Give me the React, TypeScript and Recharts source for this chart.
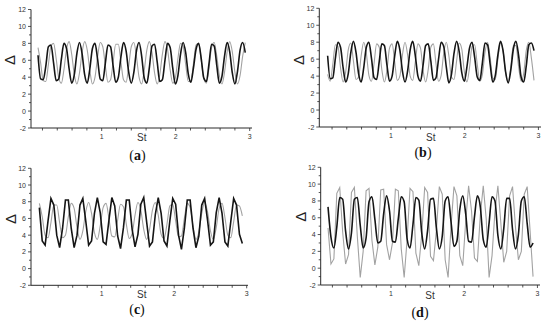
import React from 'react';
import { LineChart, Line, XAxis, YAxis } from 'recharts';

// St sampling grids
const ST_AB = [0.14, 0.175, 0.21, 0.245, 0.28, 0.315, 0.35, 0.385, 0.42, 0.455, 0.49, 0.525, 0.56, 0.595, 0.63, 0.665, 0.7, 0.735, 0.77, 0.805, 0.84, 0.875, 0.91, 0.945, 0.98, 1.015, 1.05, 1.085, 1.12, 1.155, 1.19, 1.225, 1.26, 1.295, 1.33, 1.365, 1.4, 1.435, 1.47, 1.505, 1.54, 1.575, 1.61, 1.645, 1.68, 1.715, 1.75, 1.785, 1.82, 1.855, 1.89, 1.925, 1.96, 1.995, 2.03, 2.065, 2.1, 2.135, 2.17, 2.205, 2.24, 2.275, 2.31, 2.345, 2.38, 2.415, 2.45, 2.485, 2.52, 2.555, 2.59, 2.625, 2.66, 2.695, 2.73, 2.765, 2.8, 2.835, 2.87, 2.905, 2.94];
const ST_CD = [0.14, 0.18, 0.22, 0.26, 0.3, 0.34, 0.38, 0.42, 0.46, 0.5, 0.54, 0.58, 0.62, 0.66, 0.7, 0.74, 0.78, 0.82, 0.86, 0.9, 0.94, 0.98, 1.02, 1.06, 1.1, 1.14, 1.18, 1.22, 1.26, 1.3, 1.34, 1.38, 1.42, 1.46, 1.5, 1.54, 1.58, 1.62, 1.66, 1.7, 1.74, 1.78, 1.82, 1.86, 1.9, 1.94, 1.98, 2.02, 2.06, 2.1, 2.14, 2.18, 2.22, 2.26, 2.3, 2.34, 2.38, 2.42, 2.46, 2.5, 2.54, 2.58, 2.62, 2.66, 2.7, 2.74, 2.78, 2.82, 2.86, 2.9, 2.94];

// Panel (a)
const A_BLACK = [6.6, 3.8, 3.7, 5.3, 7.6, 7.8, 5.7, 3.6, 3.8, 6.1, 8.0, 7.4, 5.0, 3.3, 4.3, 6.8, 8.1, 6.8, 4.3, 3.3, 5.0, 7.4, 8.0, 6.1, 3.8, 3.6, 5.7, 7.8, 7.6, 5.3, 3.4, 4.0, 6.4, 8.1, 7.1, 4.6, 3.3, 4.6, 7.1, 8.1,
  6.5, 3.9, 3.3, 5.2, 7.7, 7.9, 5.8, 3.5, 3.7, 6.0, 8.0, 7.5, 5.1, 3.2, 4.2, 6.7, 8.1, 6.9, 4.4, 3.4, 5.1, 7.3, 8.0, 6.2, 3.9, 3.5, 5.6, 7.9, 7.7, 5.4, 3.3, 4.1, 6.5, 8.1, 7.0, 4.5, 3.2, 4.7, 7.2, 8.1, 6.9];
const A_GREY = [7.5, 5.7, 3.6, 3.5, 5.5, 7.7, 8.0, 6.2, 3.9, 3.3, 4.9, 7.3, 8.2, 6.7, 4.3, 3.2, 4.5, 6.9, 8.2, 7.2, 4.8, 3.2, 4.0, 6.4, 8.1, 7.6, 5.3, 3.4, 3.7, 5.8,
  7.9, 7.9, 5.8, 3.7, 3.4, 5.3, 7.6, 8.1, 6.4, 4.0, 3.2, 4.8, 7.2, 8.2, 6.9, 4.5, 3.2, 4.3, 6.7, 8.2, 7.3, 4.9, 3.3, 3.9, 6.2, 8.0, 7.7, 5.5, 3.5, 3.6,
  5.6, 7.8, 8.0, 6.0, 3.8, 3.3, 5.1, 7.5, 8.1, 6.5, 4.2, 3.2, 4.6, 7.0, 8.2, 7.0, 4.6, 3.2, 4.2, 6.5, 8.1];

// Panel (b)
const B_BLACK = [6.4, 3.7, 3.8, 6.1, 8.0, 7.4, 5.0, 3.3, 4.3, 6.8, 8.1, 6.8, 4.3, 3.3, 5.0, 7.4, 8.0, 6.1, 3.8, 3.6, 5.7, 7.8, 7.6, 5.3, 3.4, 4.0, 6.4, 8.1, 7.1, 4.6, 3.3, 4.6, 7.1, 8.1, 6.4, 4.0, 3.4, 5.3, 7.6, 7.8,
  5.8, 3.5, 3.8, 6.0, 8.0, 7.5, 5.1, 3.2, 4.2, 6.7, 8.1, 6.9, 4.4, 3.4, 5.1, 7.3, 8.0, 6.2, 3.9, 3.5, 5.6, 7.9, 7.7, 5.4, 3.3, 4.1, 6.5, 8.1, 7.0, 4.5, 3.2, 4.7, 7.2, 8.1, 6.5, 3.9, 3.3, 5.2, 7.7, 7.9, 7.0];
const B_GREY = [4.2, 3.4, 5.4, 7.7, 7.5, 5.0, 3.3, 4.5, 7.1, 7.9, 5.8, 3.6, 3.9, 6.4, 8.0, 6.7, 4.1, 3.4, 5.5, 7.8, 7.4, 4.8, 3.3, 4.7, 7.3, 7.8, 5.7, 3.5, 4.0, 6.5,
  8.0, 6.5, 4.0, 3.5, 5.7, 7.8, 7.3, 4.7, 3.3, 4.8, 7.4, 7.8, 5.5, 3.4, 4.1, 6.7, 8.0, 6.4, 3.9, 3.6, 5.8, 7.9, 7.2, 4.5, 3.3, 5.0, 7.5, 7.7, 5.4, 3.4,
  4.2, 6.8, 8.0, 6.2, 3.8, 3.6, 6.0, 7.9, 7.0, 4.4, 3.3, 5.1, 7.6, 7.6, 5.2, 3.4, 4.3, 7.0, 8.0, 6.1, 3.5];

// Panel (c)
const C_BLACK = [7.3, 3.3, 2.8, 5.7, 8.4, 7.6, 4.0, 2.5, 4.8, 8.2, 8.2, 4.8, 2.5, 4.0, 7.6, 8.4, 5.7, 2.8, 3.3, 6.6, 8.5,
  6.7, 3.2, 2.9, 5.8, 8.5, 7.5, 3.9, 2.4, 4.9, 8.2, 8.2, 4.7, 2.6, 4.1, 7.7, 8.5, 5.6, 2.7, 3.2, 6.5, 8.5,
  6.6, 3.3, 2.7, 5.7, 8.4, 7.7, 4.0, 2.3, 4.8, 8.2, 8.2, 4.8, 2.5, 3.9, 7.6, 8.4, 5.8, 2.8, 3.2, 6.7, 8.5,
  6.6, 3.2, 2.7, 5.6, 8.4, 7.6, 4.1, 3.0];
const C_GREY = [7.8, 6.2, 4.0, 3.7, 5.5, 7.6, 7.6, 5.5, 3.7, 4.0, 6.2, 7.8, 7.2, 4.9, 3.5, 4.5, 6.8, 7.9, 6.6, 4.3,
  3.5, 5.1, 7.3, 7.8, 6.0, 3.9, 3.8, 5.8, 7.7, 7.4, 5.3, 3.6, 4.2, 6.4, 7.9, 7.0, 4.7, 3.5, 4.7, 7.0,
  7.9, 6.4, 4.1, 3.6, 5.3, 7.5, 7.7, 5.7, 3.8, 3.9, 6.0, 7.8, 7.3, 5.1, 3.5, 4.4, 6.6, 7.9, 6.8, 4.5,
  3.5, 4.9, 7.2, 7.8, 6.1, 4.0, 3.7, 5.6, 7.6, 7.5, 6.3];

// Panel (d)
const D_BLACK = [7.3, 3.7, 2.4, 4.9, 8.4, 8.2, 4.4, 2.3, 4.2, 8.2, 8.4, 5.1, 2.4, 3.6, 7.9, 8.5, 5.8, 3.0, 3.2, 6.5,
  8.6, 6.8, 3.2, 3.1, 5.9, 8.5, 7.9, 3.5, 2.4, 5.2, 8.4, 8.1, 4.2, 2.3, 4.5, 8.2, 8.3, 4.8, 2.3, 3.8,
  8.0, 8.5, 5.5, 2.6, 3.2, 7.0, 8.6, 6.5, 3.2, 3.1, 6.1, 8.6, 7.3, 3.4, 2.5, 5.4, 8.5, 8.0, 3.9, 2.3,
  4.7, 8.3, 8.3, 4.6, 2.3, 4.0, 8.0, 8.5, 5.3, 2.5, 3.0];
const D_GREY = [4.8, 0.5, 1.1, 8.9, 9.6, 4.3, 0.5, 1.6, 9.0, 9.6, 3.8, -1.1, 2.0, 9.2, 9.5, 3.3, 0.4, 2.5, 9.3, 9.4,
  2.8, 1.0, 3.0, 9.4, 9.2, 2.3, -1.1, 3.4, 9.5, 9.1, 1.8, 0.3, 4.0, 9.6, 9.0, 1.4, 0.9, 4.5, 9.7, 8.8,
  1.0, -1.1, 5.0, 9.7, 8.6, 1.5, 0.3, 5.5, 9.8, 6.8, 1.2, 0.8, 6.3, 9.8, 5.9, -1.1, 1.5, 6.8, 9.8, 5.4,
  0.7, 2.0, 8.6, 9.7, 4.9, 1.0, 2.0, 8.8, 9.7, 4.4, -1.0];

const X_TICKS = [0.2, 0.4, 0.6, 0.8, 1, 1.2, 1.4, 1.6, 1.8, 2, 2.2, 2.4, 2.6, 2.8, 3];
const Y_TICKS = [-2, -1, 0, 1, 2, 3, 4, 5, 6, 7, 8, 9, 10, 11, 12];
const PANEL_LETTERS = ['a', 'b', 'c', 'd'];

const SANS = '"Liberation Sans", Arial, sans-serif';
const SERIF = '"Liberation Serif", "Times New Roman", serif';
const AXIS_COLOR = '#2a2a2a';

const PANELS = [
  { st: ST_AB, black: A_BLACK, grey: A_GREY, curveBlack: 'monotone', curveGrey: 'monotone', left: 0, top: 0, margin: { top: 9.5, right: 23, bottom: 22, left: 11 }, domain: [0.045, 3.031], delta: [9.7, 60], stPos: [141.7, 137.5], labelPos: [137.5, 155] },
  { st: ST_AB, black: B_BLACK, grey: B_GREY, curveBlack: 'monotone', curveGrey: 'monotone', left: 275, top: 0, margin: { top: 8.3, right: 9, bottom: 23, left: 24.3 }, domain: [0.027, 3.035], delta: [298.3, 60], stPos: [430.8, 137.8], labelPos: [423, 152] },
  { st: ST_CD, black: C_BLACK, grey: C_GREY, curveBlack: 'linear', curveGrey: 'monotone', left: 0, top: 160, margin: { top: 8.3, right: 27, bottom: 24.7, left: 11 }, domain: [0.025, 3.018], delta: [10.7, 219], stPos: [141.7, 294.8], labelPos: [137, 309] },
  { st: ST_CD, black: D_BLACK, grey: D_GREY, curveBlack: 'monotone', curveGrey: 'linear', left: 275, top: 160, margin: { top: 7.3, right: 10, bottom: 25, left: 25.7 }, domain: [0.04, 3.035], delta: [300.8, 216.7], stPos: [430, 295.5], labelPos: [420, 312] },
];

const isInt = (v: number) => Math.abs(v - Math.round(v)) < 1e-6;

const XTick = (props: any) => {
  const { x, y, payload } = props;
  const v = payload.value as number;
  const major = isInt(v);
  return (
    <g>
      <line x1={x} x2={x} y1={y} y2={y + (major ? 3 : 2.5)} stroke={AXIS_COLOR} strokeWidth={0.8} />
      {major && (
        <text x={x} y={y + 10.5} textAnchor="middle" fontSize={7} fill="#333" fontFamily={SANS}>
          {Math.round(v)}
        </text>
      )}
    </g>
  );
};

const YTick = (props: any) => {
  const { x, y, payload } = props;
  const v = payload.value as number;
  const major = Math.round(v) % 2 === 0;
  return (
    <g>
      <line x1={x - (major ? 3 : 2)} x2={x} y1={y} y2={y} stroke={AXIS_COLOR} strokeWidth={0.8} />
      {major && (
        <text x={x - 5} y={y + 2.5} textAnchor="end" fontSize={7} fill="#333" fontFamily={SANS}>
          {v}
        </text>
      )}
    </g>
  );
};

function Panel({ p }: { p: any }) {
  const rows = p.st.map((s: number, i: number) => ({ st: s, black: p.black[i], grey: p.grey[i] }));
  return (
    <div style={{ position: 'absolute', left: p.left, top: p.top, width: 275, height: 165 }}>
      <LineChart width={275} height={165} data={rows} margin={p.margin}>
        <XAxis
          dataKey="st"
          type="number"
          domain={p.domain}
          allowDataOverflow
          ticks={X_TICKS}
          interval={0}
          tickSize={0}
          tickMargin={0}
          tick={<XTick />}
          height={15}
          axisLine={{ stroke: AXIS_COLOR, strokeWidth: 1 }}
        />
        <YAxis
          type="number"
          domain={[-2, 12]}
          allowDataOverflow
          ticks={Y_TICKS}
          interval={0}
          tickSize={0}
          tickMargin={0}
          tick={<YTick />}
          width={20}
          axisLine={{ stroke: AXIS_COLOR, strokeWidth: 1 }}
        />
        <Line type={p.curveGrey} dataKey="grey" stroke="#a2a2a2" strokeWidth={1.1} dot={false} isAnimationActive={false} />
        <Line type={p.curveBlack} dataKey="black" stroke="#151515" strokeWidth={1.6} dot={false} isAnimationActive={false} />
      </LineChart>
    </div>
  );
}

export default function App() {
  return (
    <div style={{ position: 'absolute', left: 0, top: 0, width: 550, height: 325, background: '#fff' }}>
      {PANELS.map((p, i) => (
        <Panel key={i} p={p} />
      ))}
      <svg width={550} height={325} style={{ position: 'absolute', left: 0, top: 0, pointerEvents: 'none' }}>
        {PANELS.map((p, i) => (
          <g key={i}>
            <text
              x={p.delta[0]}
              y={p.delta[1]}
              textAnchor="middle"
              dominantBaseline="central"
              fontSize={15}
              fontFamily={SANS}
              fill="#222"
              transform={`rotate(-90 ${p.delta[0]} ${p.delta[1]})`}
            >
              Δ
            </text>
            <text x={p.stPos[0]} y={p.stPos[1]} textAnchor="middle" dominantBaseline="central" fontSize={10} fontFamily={SANS} fill="#333">
              St
            </text>
            <text x={p.labelPos[0]} y={p.labelPos[1]} textAnchor="middle" dominantBaseline="central" fontSize={14} fontFamily={SERIF} fill="#111">
              <tspan>(</tspan>
              <tspan fontWeight="bold">{PANEL_LETTERS[i]}</tspan>
              <tspan>)</tspan>
            </text>
          </g>
        ))}
      </svg>
    </div>
  );
}
